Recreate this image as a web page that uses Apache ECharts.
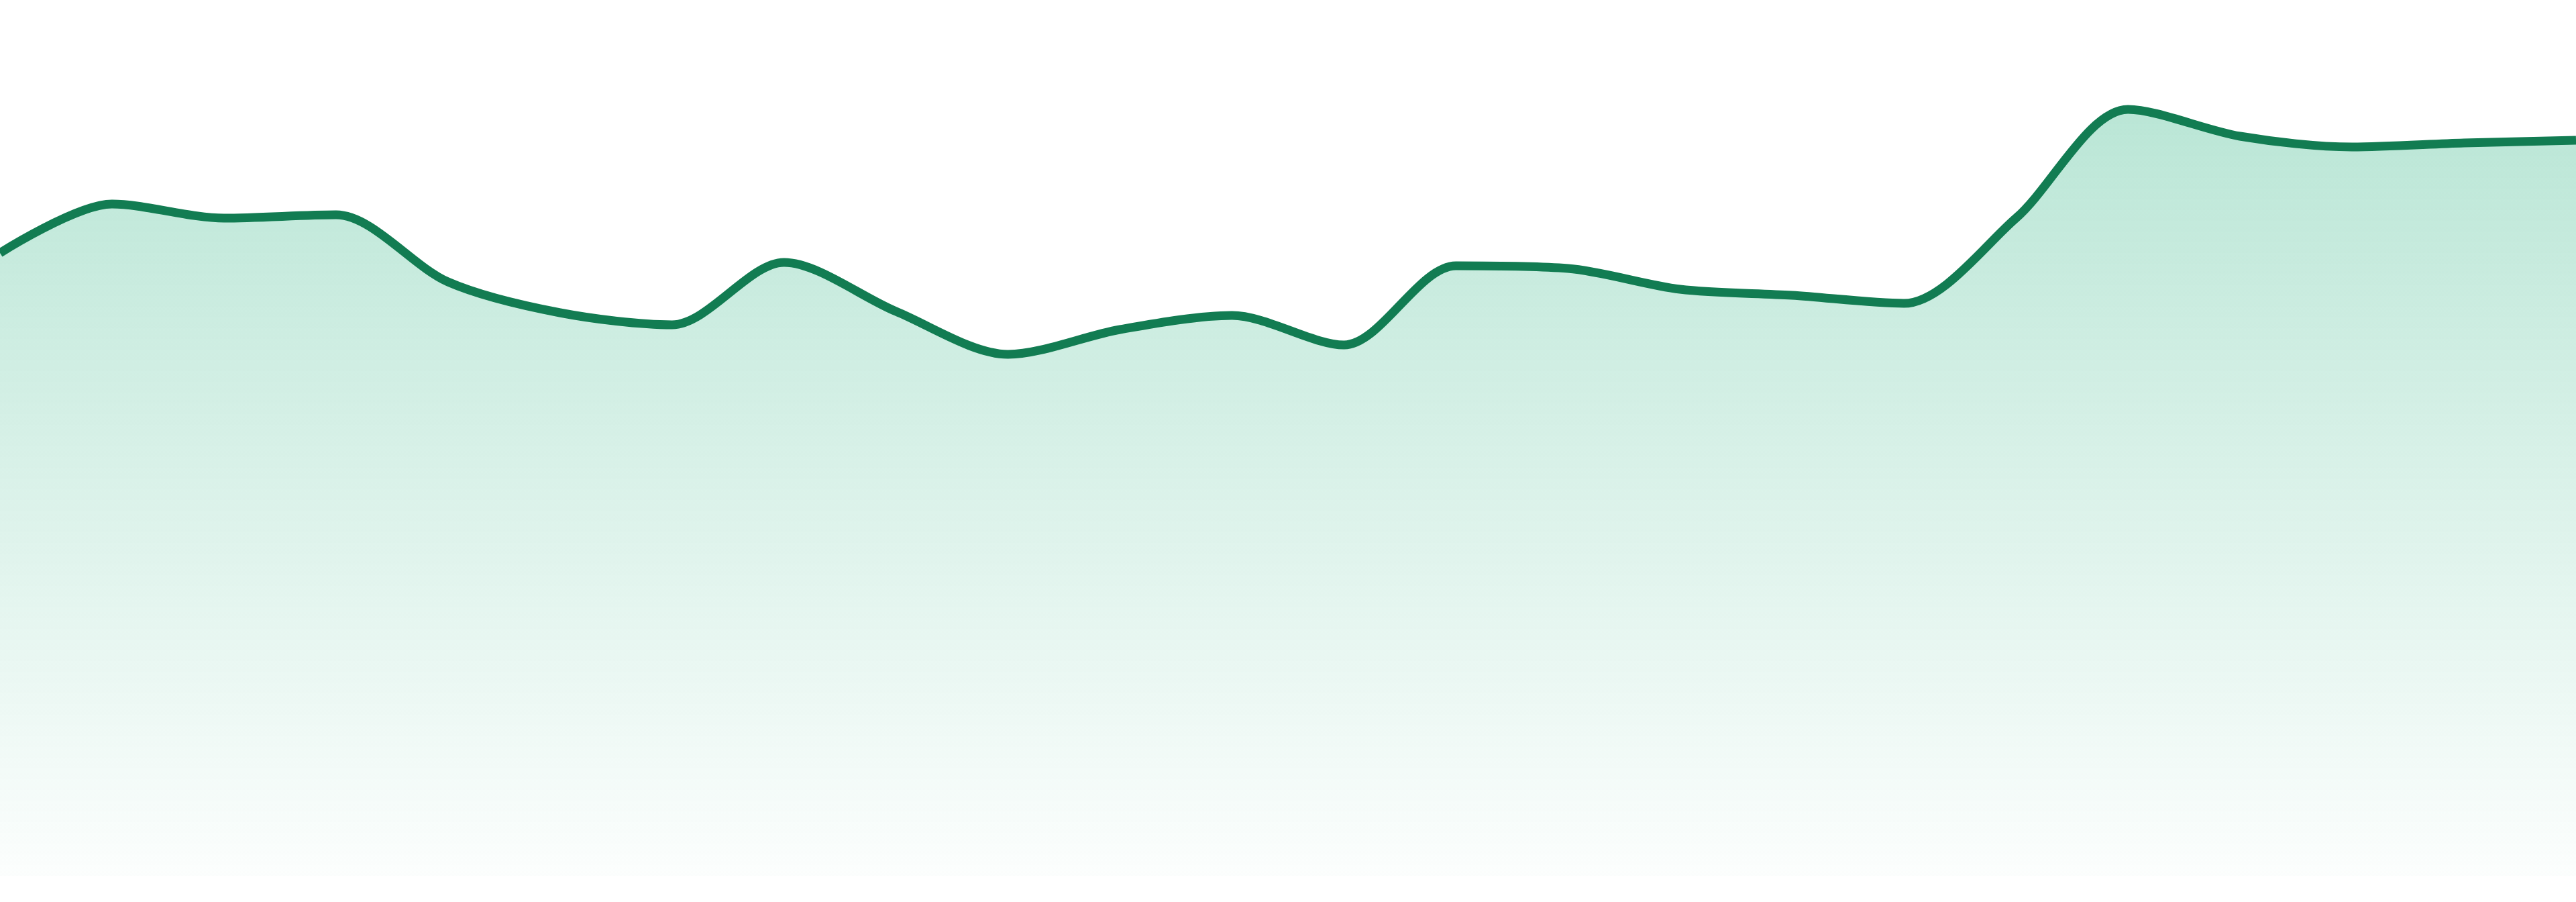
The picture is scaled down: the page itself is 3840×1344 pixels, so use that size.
<!DOCTYPE html>
<html>
<head>
<meta charset="utf-8">
<style>
html,body{margin:0;padding:0;background:#ffffff;}
#chart{width:3840px;height:1344px;}
</style>
<script src="https://cdn.jsdelivr.net/npm/echarts@6/dist/echarts.min.js"></script>
</head>
<body>
<div id="chart"></div>
<script>
var categories = ['1','2','3','4','5','6','7','8','9','10','11','12','13','14','15','16','17','18','19','20','21','22','23','24'];
var values = [92.8, 100.1, 98.0, 98.5, 88.5, 83.9, 82.1, 91.4, 84.1, 77.7, 81.4, 83.5, 79.1, 90.9, 90.5, 87.4, 86.5, 85.3, 98.0, 114.2, 110.2, 108.6, 109.2, 109.6];

var chart = echarts.init(document.getElementById('chart'));
chart.setOption({
  animation: false,
  grid: {left: 0, right: 0, top: 5, bottom: 39},
  xAxis: {type: 'category', data: categories, boundaryGap: false, show: false},
  yAxis: {type: 'value', min: 0, max: 130, show: false},
  series: [{
    type: 'line',
    data: values,
    smooth: 0.3,
    symbol: 'none',
    lineStyle: {color: '#127c52', width: 13},
    areaStyle: {
      color: new echarts.graphic.LinearGradient(0, 0, 0, 1, [
        {offset: 0, color: 'rgba(20,170,115,0.42)'},
        {offset: 1, color: 'rgba(20,170,115,0.02)'}
      ])
    }
  }]
});
</script>
</body>
</html>
